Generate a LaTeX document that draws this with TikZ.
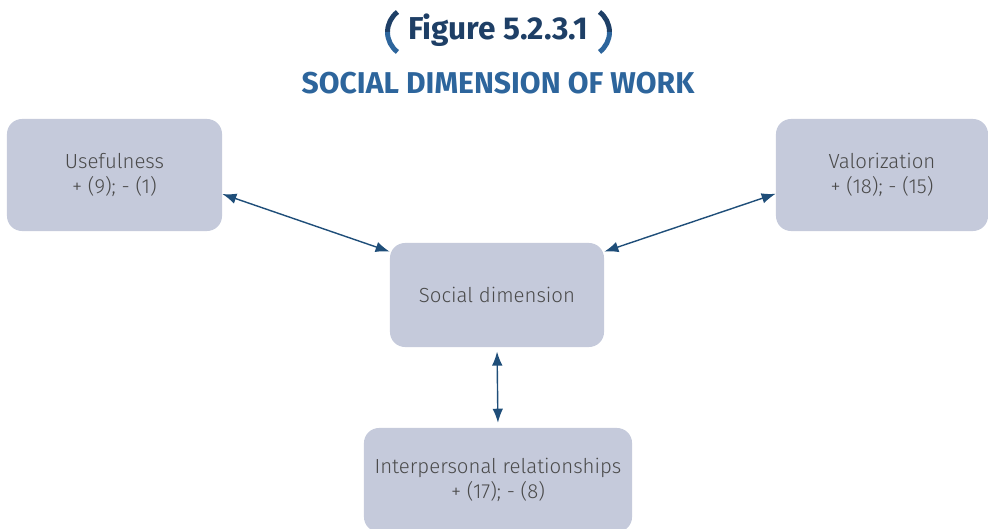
\documentclass[tikz,border=0pt]{standalone}
\usepackage{fontspec}
\setmainfont{Fira Sans}
\newfontfamily\lightfont{Fira Sans Light}
\usetikzlibrary{arrows.meta}
\definecolor{boxfill}{HTML}{C5CADB}
\definecolor{boxtext}{HTML}{4A4A4A}
\definecolor{linkblue}{HTML}{1F4E79}
\definecolor{titlenavy}{HTML}{1E3F66}
\definecolor{titleblue}{HTML}{2D659C}

\begin{document}
\begin{tikzpicture}[x=0.025cm,y=0.025cm,>={Latex[length=10pt,width=7.5pt]},
	box/.style={fill=boxfill, rounded corners=10.7pt, inner sep=0pt, align=center,
		text=boxtext, font=\lightfont\fontsize{14.5}{17.8}\selectfont},
	link/.style={<->, draw=linkblue, line width=1pt}]
%	\draw [help lines, step=50] (0,0) grid (988,528);
	\useasboundingbox (0,0) rectangle (988,528);
	% heading
	\node [anchor=base, text=titlenavy, font=\fontsize{22.5}{26}\bfseries\selectfont] (fig) at (498,488) {Figure 5.2.3.1};
	\node [anchor=base, text=titleblue, font=\fontsize{21.4}{25}\bfseries\selectfont] (title) at (498,434) {SOCIAL DIMENSION OF WORK};
	\draw [titlenavy, line width=3.5pt] (397.5,516) arc (127:180:25);
	\draw [titleblue, line width=3.5pt] (387.5,496) arc (180:233:25);
	\draw [titlenavy, line width=3.5pt] (599.5,516) arc (53:0:25);
	\draw [titleblue, line width=3.5pt] (609.5,496) arc (0:-53:25);
	% boxes
	\node [box, minimum width=5.375cm, minimum height=2.8cm] (use) at (114.5,353) {Usefulness\\+ (9); - (1)};
	\node [box, minimum width=5.3cm, minimum height=2.8cm] (val) at (882,353) {Valorization\\+ (18); - (15)};
	\node [box, minimum width=5.35cm, minimum height=2.6cm] (soc) at (497,233) {Social dimension};
	\node [box, minimum width=6.7cm, minimum height=2.6cm] (rel) at (498,48) {Interpersonal relationships\\+ (17); - (8)};
	% links
	\draw [link] (use.-10) -- (soc.158);
	\draw [link] (val.190) -- (soc.22);
	\draw [link, shorten <=3pt, shorten >=3.5pt] (soc.south) -- (rel.north);
\end{tikzpicture}
\end{document}
